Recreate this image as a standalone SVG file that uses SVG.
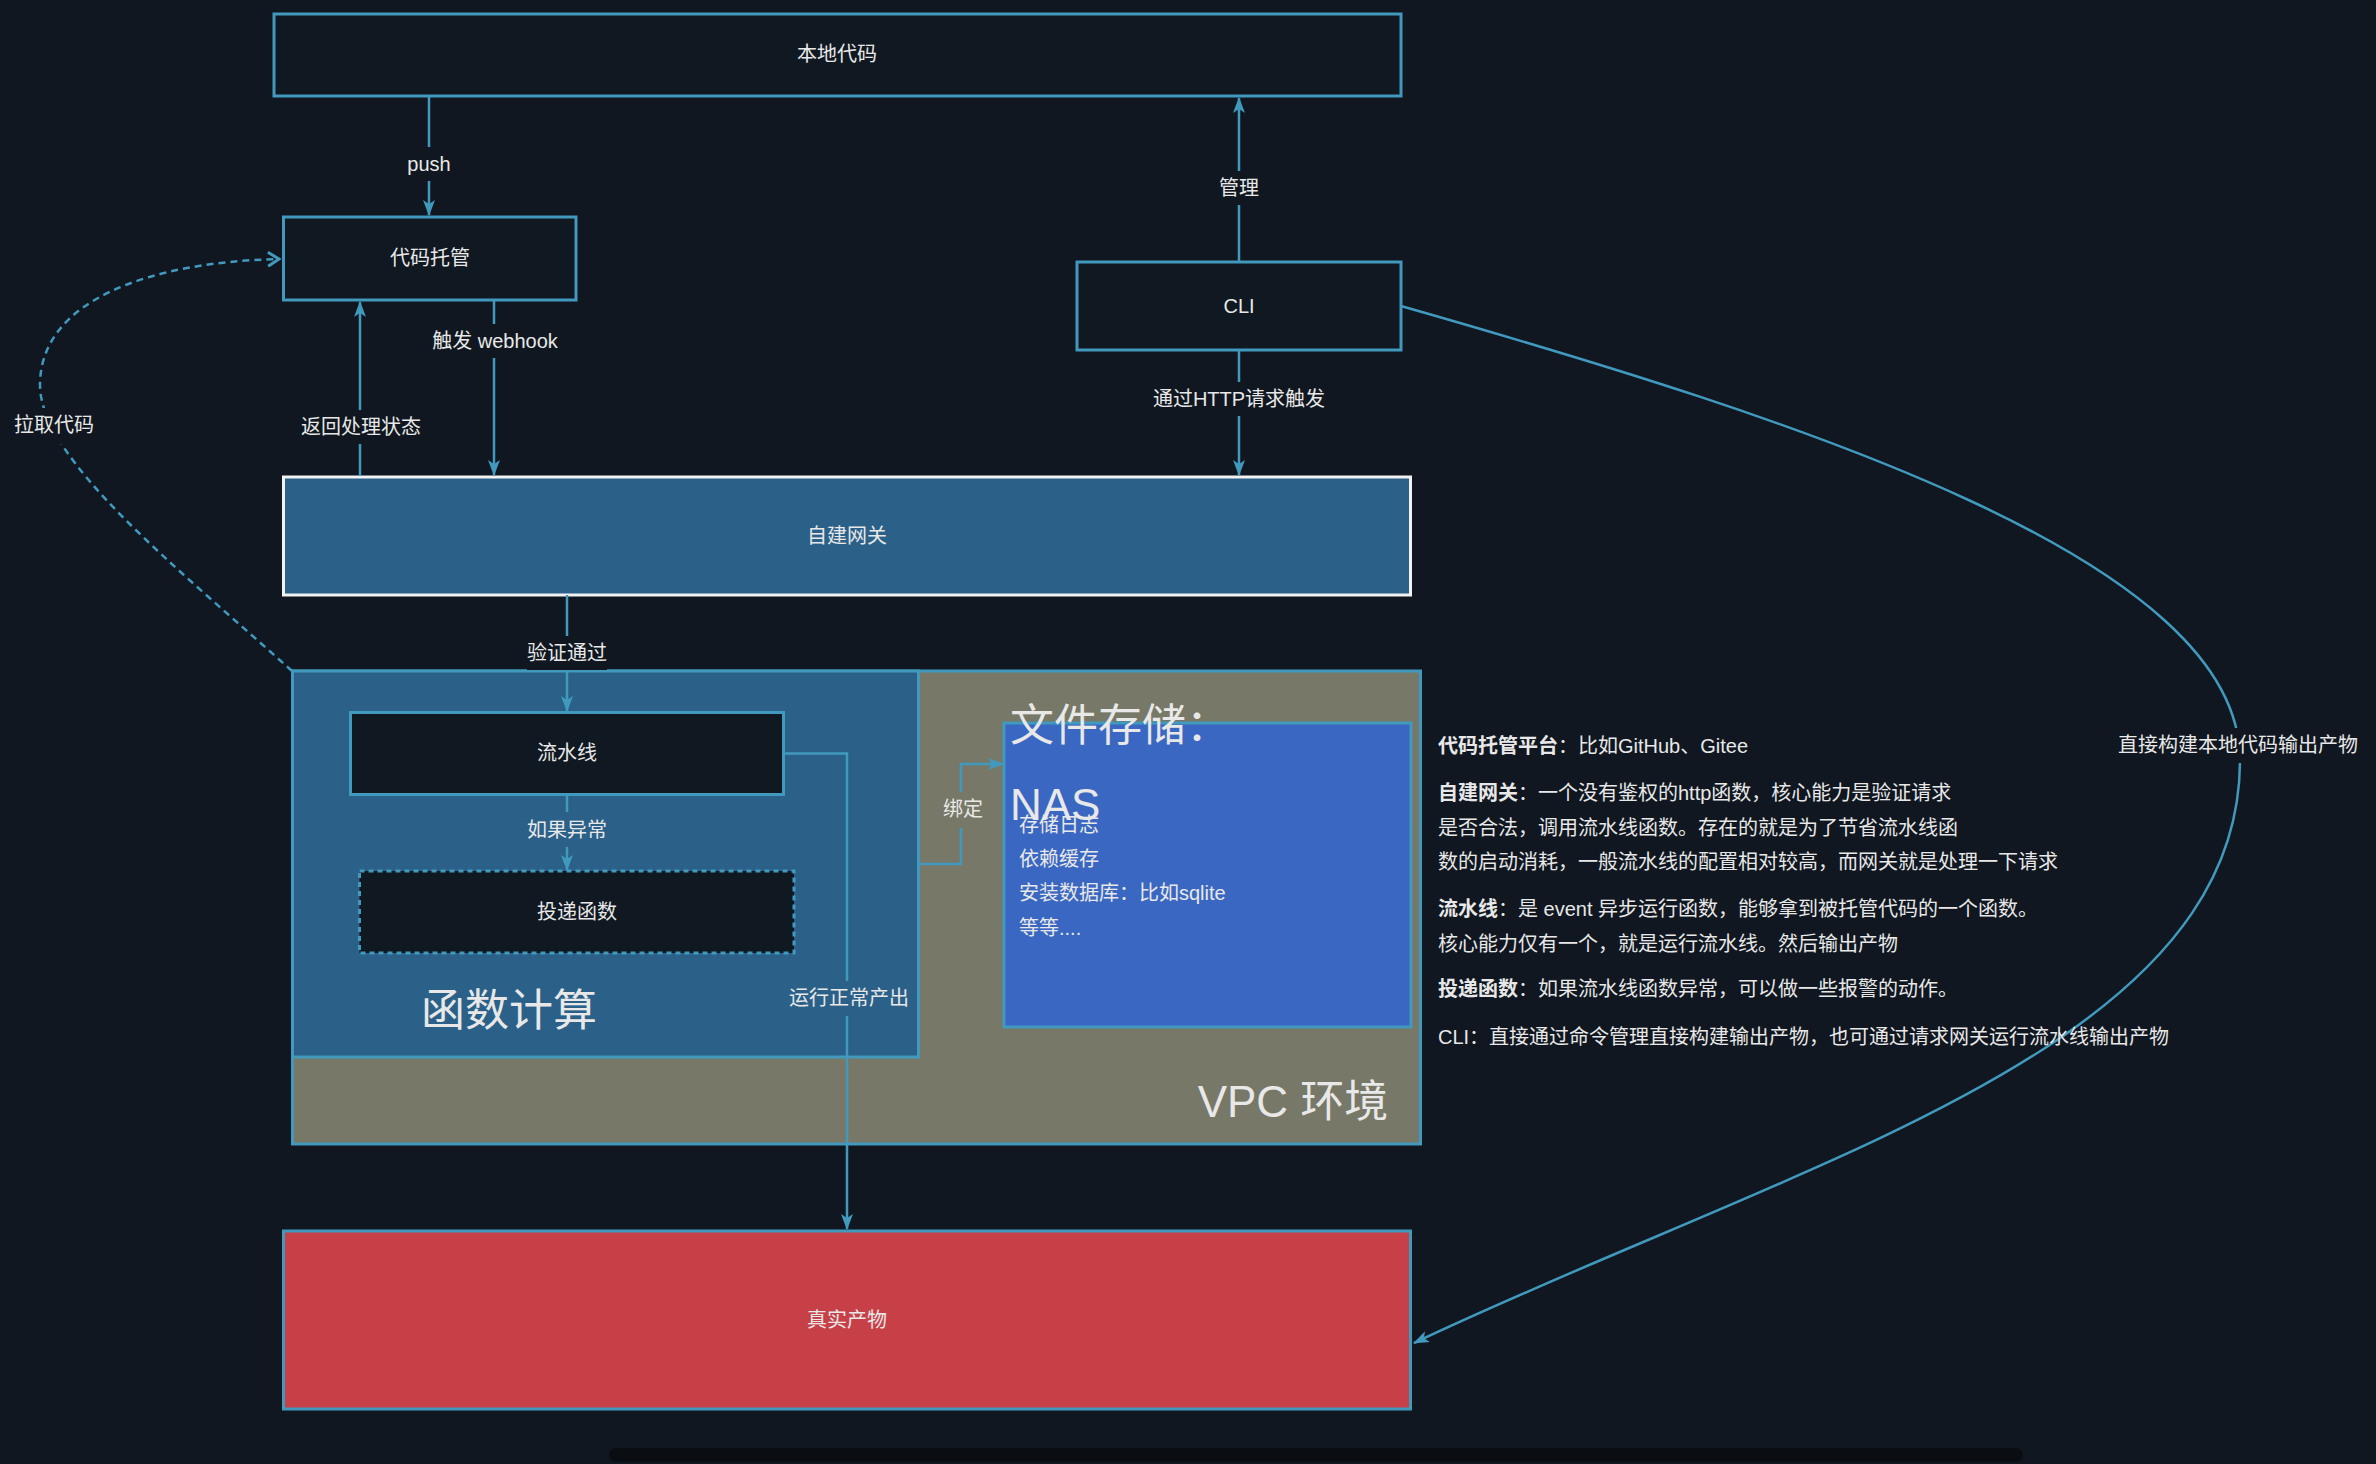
<svg xmlns="http://www.w3.org/2000/svg" width="2376" height="1464" viewBox="0 0 2376 1464">
<defs>
<style>
text{font-family:"Liberation Sans","Noto Sans CJK SC",sans-serif;fill:#e8e8e8;}
.t{font-size:20px;dominant-baseline:central;}
.c{text-anchor:middle;}
.big{font-size:44px;}
.box{stroke:#4199be;stroke-width:3;}
.dark{fill:#101821;}
.line{fill:none;stroke:#4199be;stroke-width:2.5;}
.b{font-weight:bold;}
</style>
<marker id="arr" markerUnits="userSpaceOnUse" markerWidth="16" markerHeight="12" refX="15" refY="6" orient="auto" viewBox="0 0 16 12">
<path d="M0,0 L16,6 L0,12 L4,6 Z" fill="#4199be"/>
</marker>
<marker id="open" markerUnits="userSpaceOnUse" markerWidth="14" markerHeight="16" refX="12" refY="8" orient="auto" viewBox="0 0 14 16">
<path d="M1,1 L12,8 L1,15" fill="none" stroke="#4199be" stroke-width="3"/>
</marker>
</defs>
<rect width="2376" height="1464" fill="#101720"/>

<g id="vpc">
<rect x="292.5" y="671" width="1128" height="473" fill="#777867" class="box"/>
<text class="big c" x="1293" y="1117">VPC 环境</text>
</g>
<g id="fc">
<rect x="292.5" y="671" width="626" height="386" fill="#2b6188" class="box"/>
<text class="big c" x="509" y="1010" style="dominant-baseline:central">函数计算</text>
</g>
<g id="nas">
<rect x="1004" y="723" width="407" height="304" fill="#3a67c1" class="box"/>
<text class="big" x="1010" y="741">文件存储：</text>
<text class="big" x="1010" y="820">NAS</text>
<text class="t" x="1019" y="825">存储日志</text>
<text class="t" x="1019" y="859">依赖缓存</text>
<text class="t" x="1019" y="893">安装数据库：比如sqlite</text>
<text class="t" x="1019" y="928">等等....</text>
</g>
<g id="local">
<rect x="274" y="14" width="1127" height="82" class="box dark"/>
<text class="t c" x="837" y="54">本地代码</text>
</g>
<g id="hosting">
<rect x="283.5" y="217" width="292.5" height="83" class="box dark"/>
<text class="t c" x="430" y="258">代码托管</text>
</g>
<g id="cli">
<rect x="1077" y="262" width="324" height="88" class="box dark"/>
<text class="t c" x="1239" y="306">CLI</text>
</g>
<g id="gateway">
<rect x="283.5" y="477" width="1127" height="118" fill="#2b6188" stroke="#f2f2f2" stroke-width="3"/>
<text class="t c" x="847" y="536">自建网关</text>
</g>
<g id="pipeline">
<rect x="350.5" y="712.5" width="433" height="82" class="box dark"/>
<text class="t c" x="567" y="753">流水线</text>
</g>
<g id="deliver">
<rect x="359.5" y="871" width="434.5" height="82" class="dark" stroke="#4199be" stroke-width="3" stroke-dasharray="5 4"/>
<text class="t c" x="577" y="912">投递函数</text>
</g>
<g id="product">
<rect x="283.5" y="1231" width="1127" height="178" fill="#c84047" class="box"/>
<text class="t c" x="847" y="1320">真实产物</text>
</g>

<g id="connectors">
<path class="line" d="M429,96 L429,215" marker-end="url(#arr)"/>
<path class="line" d="M1239,262 L1239,98" marker-end="url(#arr)"/>
<path class="line" d="M494,300 L494,475" marker-end="url(#arr)"/>
<path class="line" d="M360,476 L360,302" marker-end="url(#arr)"/>
<path class="line" d="M1239,350 L1239,475" marker-end="url(#arr)"/>
<path class="line" d="M567,595 L567,711" marker-end="url(#arr)"/>
<path class="line" d="M567,795 L567,870" marker-end="url(#arr)"/>
<path class="line" d="M784,753.5 L847,753.5 L847,1229" marker-end="url(#arr)"/>
<path class="line" d="M919,864 L961,864 L961,764 L1003,764" stroke-width="3" marker-end="url(#arr)"/>
<path class="line" d="M292,671 C180,570 40,460 40,385 C40,300 150,262 279,259" stroke-width="3" stroke-dasharray="7 5" marker-end="url(#open)"/>
<path class="line" d="M1401,306 C1800,420 2240,560 2240,760 C2240,1050 1800,1160 1414,1343" marker-end="url(#arr)"/>

<rect x="405" y="147" width="48" height="34" fill="#101720"/>
<text class="t c" x="429" y="164">push</text>
<rect x="1217" y="171" width="44" height="34" fill="#101720"/>
<text class="t c" x="1239" y="188">管理</text>
<rect x="430" y="324" width="130" height="34" fill="#101720"/>
<text class="t c" x="495" y="341">触发 webhook</text>
<rect x="298" y="410" width="126" height="34" fill="#101720"/>
<text class="t c" x="361" y="427">返回处理状态</text>
<rect x="1154" y="382" width="170" height="34" fill="#101720"/>
<text class="t c" x="1239" y="399">通过HTTP请求触发</text>
<rect x="527" y="636" width="80" height="34" fill="#101720"/>
<text class="t c" x="567" y="653">验证通过</text>
<rect x="527" y="812" width="80" height="35" fill="#2b6188"/>
<text class="t c" x="567" y="830">如果异常</text>
<rect x="788" y="981" width="122" height="35" fill="#2b6188"/>
<text class="t c" x="849" y="998">运行正常产出</text>
<rect x="941" y="792" width="44" height="36" fill="#777867"/>
<text class="t c" x="963" y="809">绑定</text>
<rect x="14" y="408" width="80" height="36" fill="#101720"/>
<text class="t c" x="54" y="425">拉取代码</text>
<rect x="2117" y="728" width="242" height="35" fill="#101720"/>
<text class="t c" x="2238" y="745">直接构建本地代码输出产物</text>
</g>

<g id="notes">
<text class="t" x="1438" y="746"><tspan class="b">代码托管平台</tspan>：比如GitHub、Gitee</text>
<text class="t" x="1438" y="793"><tspan class="b">自建网关</tspan>：一个没有鉴权的http函数，核心能力是验证请求</text>
<text class="t" x="1438" y="828">是否合法，调用流水线函数。存在的就是为了节省流水线函</text>
<text class="t" x="1438" y="862">数的启动消耗，一般流水线的配置相对较高，而网关就是处理一下请求</text>
<text class="t" x="1438" y="909"><tspan class="b">流水线</tspan>：是 event 异步运行函数，能够拿到被托管代码的一个函数。</text>
<text class="t" x="1438" y="944">核心能力仅有一个，就是运行流水线。然后输出产物</text>
<text class="t" x="1438" y="989"><tspan class="b">投递函数</tspan>：如果流水线函数异常，可以做一些报警的动作。</text>
<text class="t" x="1438" y="1037">CLI：直接通过命令管理直接构建输出产物，也可通过请求网关运行流水线输出产物</text>
</g>

<rect x="609" y="1448" width="1414" height="14" rx="7" fill="#0a0e12"/>
</svg>
